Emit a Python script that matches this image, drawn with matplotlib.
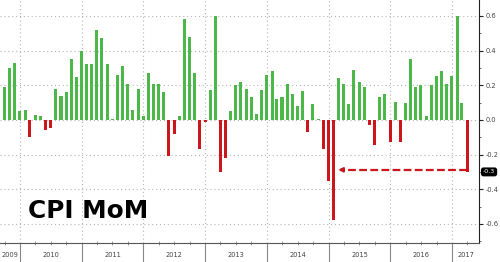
import numpy as np
import pandas as pd
import matplotlib
matplotlib.use("Agg")
import matplotlib.pyplot as plt
import matplotlib.dates as mdates
import matplotlib.transforms as mtransforms
from matplotlib.ticker import FixedLocator, MultipleLocator

plt.rcParams["axes.unicode_minus"] = False

# Colors
COLOR_UP = "#4cb849"
COLOR_DOWN = "#cc161c"
COLOR_GRID = "#b4b4b4"

# =============================================================================
# Data: US CPI month-over-month change (%), Sep 2009 - Mar 2017
# =============================================================================
months = pd.date_range("2009-09-30", "2017-03-31", freq="ME")

cpi_2009 = [0.19, 0.30, 0.33, 0.05]
cpi_2010 = [0.06, -0.10, 0.03, 0.02, -0.06, -0.045, 0.18, 0.14, 0.16, 0.35, 0.25, 0.40]
cpi_2011 = [0.32, 0.32, 0.52, 0.47, 0.32, 0.005, 0.26, 0.31, 0.21, 0.06, 0.18, 0.02]
cpi_2012 = [0.27, 0.21, 0.21, 0.16, -0.21, -0.08, 0.025, 0.58, 0.48, 0.27, -0.17, -0.01]
cpi_2013 = [0.17, 0.60, -0.30, -0.22, 0.05, 0.20, 0.22, 0.18, 0.13, 0.035, 0.17, 0.26]
cpi_2014 = [0.28, 0.12, 0.13, 0.21, 0.15, 0.08, 0.165, -0.07, 0.09, 0.005, -0.165, -0.35]
cpi_2015 = [-0.58, 0.24, 0.21, 0.09, 0.29, 0.22, 0.19, -0.03, -0.145, 0.135, 0.15, -0.13]
cpi_2016 = [0.105, -0.125, 0.095, 0.35, 0.19, 0.20, 0.02, 0.20, 0.255, 0.28, 0.21, 0.255]
cpi_2017 = [0.60, 0.095, -0.30]

values = np.array(cpi_2009 + cpi_2010 + cpi_2011 + cpi_2012 + cpi_2013
                  + cpi_2014 + cpi_2015 + cpi_2016 + cpi_2017)

years = list(range(2009, 2018))
y_ticks = [0.6, 0.4, 0.2, 0.0, -0.2, -0.4, -0.6]
last_label = "-0.3"
title = "CPI MoM"

# =============================================================================
# Plot
# =============================================================================
fig = plt.figure(figsize=(5.0, 2.62), dpi=100)
ax = fig.add_axes([0.0, 0.074, 0.958, 0.926])

colors = [COLOR_UP if v >= 0 else COLOR_DOWN for v in values]
ax.bar(months, values, width=18, color=colors, align="center", zorder=3)

x_left = mdates.date2num(pd.Timestamp("2009-09-04"))
x_right = mdates.date2num(pd.Timestamp("2017-06-09"))
ax.set_xlim(x_left, x_right)
ax.set_ylim(-0.708, 0.692)

# spines
for side in ("top", "left"):
    ax.spines[side].set_visible(False)
ax.spines["right"].set_color("#222222")
ax.spines["right"].set_linewidth(0.8)
ax.spines["bottom"].set_color("#555555")
ax.spines["bottom"].set_linewidth(0.8)

# y axis on the right
ax.yaxis.tick_right()
ax.yaxis.set_major_locator(FixedLocator(y_ticks))
ax.yaxis.set_minor_locator(MultipleLocator(0.1))
ax.set_yticklabels([f"{t:.1f}" for t in y_ticks])
ax.tick_params(axis="y", which="major", direction="out", length=3, width=0.8,
               color="#222222", labelsize=4.8, labelcolor="#444444", pad=1.5)
ax.tick_params(axis="y", which="minor", direction="out", length=1.5, width=0.6,
               color="#555555")

# x axis: year boundaries as long ticks, quarters as small ticks
ax.xaxis.set_major_locator(mdates.YearLocator())
ax.xaxis.set_minor_locator(mdates.MonthLocator(bymonth=[4, 7, 10]))
ax.xaxis.set_major_formatter(plt.NullFormatter())
ax.tick_params(axis="x", which="major", direction="out", length=14, width=0.8,
               color="#888888")
ax.tick_params(axis="x", which="minor", direction="inout", length=3, width=0.6,
               color="#888888")

# year labels centered in the visible part of each year
trans_x = mtransforms.blended_transform_factory(ax.transData, ax.transAxes)
for yr in years:
    start = max(mdates.date2num(pd.Timestamp(f"{yr}-01-01")), x_left)
    end = min(mdates.date2num(pd.Timestamp(f"{yr + 1}-01-01")), x_right)
    ax.text((start + end) / 2, -0.052, str(yr), transform=trans_x,
            ha="center", va="center", fontsize=4.8, color="#444444", clip_on=False)

# dotted grid
ax.grid(True, axis="both", which="major", color=COLOR_GRID,
        linestyle=(0, (1, 2.5)), linewidth=0.8, zorder=0)

# dashed arrow from the latest print back to the previous low
i_low = int(np.argmin(values))
y_arrow = values[-1] + 0.012
x_start = mdates.date2num(months[-1])
x_tip = mdates.date2num(months[i_low]) + 26
ax.plot([x_start, x_tip + 20], [y_arrow, y_arrow], color=COLOR_DOWN, linewidth=1.6,
        linestyle=(0, (3.5, 1.5)), zorder=4, solid_capstyle="butt")
ax.annotate("", xy=(x_tip, y_arrow), xytext=(x_tip + 30, y_arrow),
            arrowprops=dict(arrowstyle="-|>", color=COLOR_DOWN, lw=1.6,
                            mutation_scale=6, shrinkA=0, shrinkB=0), zorder=5)

# last value label box
trans_y = mtransforms.blended_transform_factory(ax.transAxes, ax.transData)
ax.text(1.021, values[-1], last_label, transform=trans_y, ha="center", va="center",
        fontsize=4.6, color="white", clip_on=False,
        bbox=dict(boxstyle="round,pad=0.2,rounding_size=0.3", facecolor="black",
                  edgecolor="black"))

# title inside the chart
ax.text(0.058, 0.102, title, transform=ax.transAxes, ha="left", va="baseline",
        fontsize=17.8, fontweight="bold", color="black", family="DejaVu Sans")

fig.savefig("out.png", dpi=100)
print("Saved out.png")
